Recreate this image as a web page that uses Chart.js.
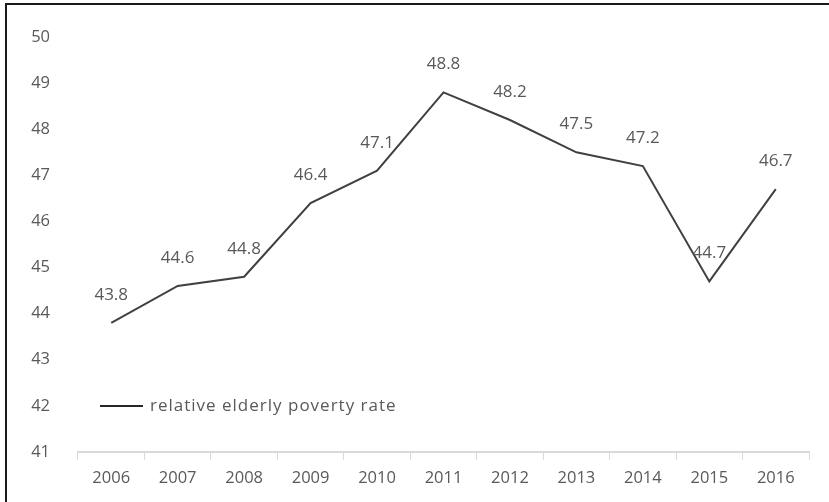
<!DOCTYPE html>
<html>
<head>
<meta charset="utf-8">
<script src="https://cdn.jsdelivr.net/npm/chart.js@4/dist/chart.umd.min.js"></script>
<style>
  html, body { margin: 0; padding: 0; background: #fff; }
  #wrap { position: relative; width: 829px; height: 502px; }
  #frame { position: absolute; left: 5px; top: 3px; right: -10px; bottom: -10px;
           border-left: 2px solid #1a1a1a; border-top: 2px solid #1a1a1a; pointer-events: none; }
</style>
</head>
<body>
<div id="wrap">
  <canvas id="myChart" width="829" height="502"></canvas>
  <div id="frame"></div>
</div>
<script>
// data
var years = ['2006', '2007', '2008', '2009', '2010', '2011', '2012', '2013', '2014', '2015', '2016'];
var povertyRate = [43.8, 44.6, 44.8, 46.4, 47.1, 48.8, 48.2, 47.5, 47.2, 44.7, 46.7];
var seriesName = 'relative elderly poverty rate';
var yMin = 41;
var yMax = 50;

var textColor = '#595959';
var fontFamily = '"Open Sans", "Noto Sans", sans-serif';

// value labels above each point
var valueLabels = {
    id: 'valueLabels',
    afterDatasetsDraw: function(chart) {
        var ctx = chart.ctx;
        var meta = chart.getDatasetMeta(0);
        ctx.save();
        ctx.font = '17px ' + fontFamily;
        ctx.fillStyle = textColor;
        ctx.textAlign = 'center';
        ctx.textBaseline = 'middle';
        meta.data.forEach(function(pt, i) {
            ctx.fillText(chart.data.datasets[0].data[i].toFixed(1), pt.x, pt.y - 28);
        });
        ctx.restore();
    }
};

// legend drawn inside the plot, bottom left
var insideLegend = {
    id: 'insideLegend',
    afterDraw: function(chart) {
        var ctx = chart.ctx;
        var y = chart.scales.y.getPixelForValue(42);
        ctx.save();
        ctx.strokeStyle = '#262626';
        ctx.lineWidth = 2;
        ctx.beginPath();
        ctx.moveTo(100, y);
        ctx.lineTo(143, y);
        ctx.stroke();
        ctx.font = '17px ' + fontFamily;
        ctx.letterSpacing = '1px';
        ctx.fillStyle = textColor;
        ctx.textBaseline = 'middle';
        ctx.fillText(chart.data.datasets[0].label, 150, y);
        ctx.restore();
    }
};

var ctx = document.getElementById('myChart').getContext('2d');
var myChart = new Chart(ctx, {
    type: 'line',
    data: {
        labels: years,
        datasets: [{
            label: seriesName,
            data: povertyRate,
            borderColor: '#404040',
            borderWidth: 2,
            pointRadius: 0,
            tension: 0,
            fill: false
        }]
    },
    options: {
        responsive: false,
        animation: false,
        layout: { padding: { top: 37, right: 20, bottom: 0, left: 0 } },
        plugins: {
            legend: { display: false },
            tooltip: { enabled: false }
        },
        scales: {
            x: {
                offset: true,
                grid: {
                    offset: true,
                    drawOnChartArea: false,
                    color: '#d9d9d9',
                    tickLength: 8
                },
                border: { color: '#d9d9d9', width: 2 },
                ticks: {
                    color: textColor,
                    font: { family: fontFamily, size: 16.5 },
                    padding: 8,
                    maxRotation: 0
                },
                afterFit: function(scale) { scale.height = 50; }
            },
            y: {
                min: yMin,
                max: yMax,
                grid: { display: false },
                border: { display: false },
                ticks: {
                    stepSize: 1,
                    color: textColor,
                    font: { family: fontFamily, size: 16.5 },
                    padding: 20
                },
                afterFit: function(scale) { scale.width = 78; }
            }
        }
    },
    plugins: [valueLabels, insideLegend]
});
</script>
</body>
</html>
